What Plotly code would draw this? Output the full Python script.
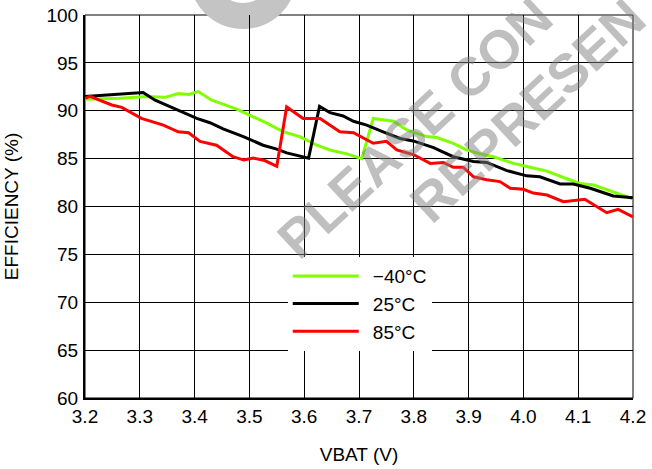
import plotly.graph_objects as go

# ---- data ----
x_m40 = [3.200, 3.264, 3.313, 3.346, 3.370, 3.389, 3.407, 3.431, 3.452, 3.480, 3.498, 3.532,
         3.562, 3.592, 3.623, 3.647, 3.678, 3.705, 3.726, 3.763, 3.787, 3.824, 3.842, 3.872,
         3.897, 3.921, 3.945, 3.982, 4.012, 4.043, 4.079, 4.103, 4.128, 4.164, 4.200]
y_m40 = [91.2, 91.3, 91.5, 91.4, 91.8, 91.7, 92.0, 91.1, 90.7, 90.1, 89.6, 88.7,
         87.8, 87.3, 86.4, 85.9, 85.5, 85.0, 89.2, 88.9, 88.0, 87.3, 87.2, 86.6,
         85.9, 85.5, 85.2, 84.5, 84.1, 83.7, 82.9, 82.4, 82.25, 81.55, 80.8]

x_25 = [3.200, 3.270, 3.306, 3.328, 3.367, 3.404, 3.428, 3.452, 3.489, 3.525, 3.550, 3.568,
        3.608, 3.628, 3.647, 3.671, 3.690, 3.714, 3.744, 3.775, 3.799, 3.836, 3.872, 3.909,
        3.933, 3.970, 4.006, 4.030, 4.067, 4.091, 4.122, 4.164, 4.200]
y_25 = [91.5, 91.8, 91.9, 91.1, 90.15, 89.2, 88.75, 88.1, 87.3, 86.4, 86.0, 85.6,
        85.05, 90.45, 89.8, 89.45, 88.9, 88.5, 87.8, 87.1, 86.85, 86.15, 85.2, 84.7,
        84.6, 83.75, 83.2, 83.1, 82.35, 82.35, 81.9, 81.1, 80.9]

x_85 = [3.200, 3.209, 3.249, 3.267, 3.303, 3.343, 3.370, 3.389, 3.410, 3.440, 3.470, 3.490,
        3.507, 3.528, 3.550, 3.568, 3.598, 3.629, 3.665, 3.690, 3.726, 3.750, 3.769, 3.800,
        3.830, 3.854, 3.872, 3.890, 3.909, 3.933, 3.957, 3.976, 4.000, 4.018, 4.043, 4.073,
        4.112, 4.152, 4.173, 4.200]
y_85 = [91.3, 91.5, 90.6, 90.35, 89.2, 88.5, 87.8, 87.7, 86.8, 86.4, 85.2, 84.85,
        85.05, 84.8, 84.2, 90.4, 89.2, 89.2, 87.8, 87.7, 86.6, 86.8, 85.9, 85.4,
        84.5, 84.6, 84.1, 84.1, 83.1, 82.8, 82.6, 81.9, 81.8, 81.4, 81.2, 80.5,
        80.75, 79.35, 79.7, 78.9]

series_names = ["\u221240\u00b0C", "25\u00b0C", "85\u00b0C"]
series_colors = ["#80ff00", "#000000", "#ff0000"]

x_ticks = [3.2, 3.3, 3.4, 3.5, 3.6, 3.7, 3.8, 3.9, 4.0, 4.1, 4.2]
y_ticks = [60, 65, 70, 75, 80, 85, 90, 95, 100]

FONT = "Arial, 'Liberation Sans', Helvetica, sans-serif"
PAD = "\u00a0\u2009"  # small gap between legend line and label

fig = go.Figure()
for xs, ys, name, col in zip([x_m40, x_25, x_85], [y_m40, y_25, y_85], series_names, series_colors):
    fig.add_trace(go.Scatter(x=xs, y=ys, mode="lines", name=PAD + name,
                             line=dict(color=col, width=3)))

fig.update_layout(
    width=652, height=469,
    margin=dict(l=85, r=19, t=15, b=71, autoexpand=False),
    paper_bgcolor="white", plot_bgcolor="white",
    font=dict(family=FONT, size=19, color="black"),
    showlegend=True,
    legend=dict(x=0.37, y=0.368, xanchor="left", yanchor="top",
                bgcolor="white", borderwidth=0, itemwidth=66,
                font=dict(family=FONT, size=19, color="black")),
    xaxis=dict(range=[3.2, 4.2], tickvals=x_ticks, ticktext=[f"{v:.1f}" for v in x_ticks],
               showgrid=True, gridcolor="black", gridwidth=1,
               showline=True, linecolor="black", linewidth=2,
               ticks="", zeroline=False, ticklabelstandoff=0, automargin=False,
               title=dict(text="VBAT (V)", standoff=22, font=dict(size=19))),
    yaxis=dict(range=[60, 100], tickvals=y_ticks,
               showgrid=True, gridcolor="black", gridwidth=1,
               showline=True, linecolor="black", linewidth=2,
               ticks="", zeroline=False, ticklabelstandoff=1, automargin=False,
               title=dict(text="EFFICIENCY (%)", standoff=23, font=dict(size=19))),
)

# frame (thin top/right border)
fig.add_shape(type="rect", xref="paper", yref="paper", x0=0, x1=1, y0=0, y1=1,
              line=dict(color="black", width=1), layer="below")

# watermark ring (partial, at top)
fig.add_shape(type="circle", xref="paper", yref="paper",
              x0=0.2883 - 0.0985, x1=0.2883 + 0.0985, y0=1.1044 - 0.141, y1=1.1044 + 0.141,
              fillcolor="#c4c4c4", line=dict(width=0), layer="below")
fig.add_shape(type="circle", xref="paper", yref="paper",
              x0=0.2883 - 0.0511, x1=0.2883 + 0.0511, y0=1.1044 - 0.0731, y1=1.1044 + 0.0731,
              fillcolor="white", line=dict(width=0), layer="below")

# watermark text (only the visible parts of the reference)
wm_font = dict(family=FONT, size=54, color="rgba(128,128,128,0.5)", weight="bold")
fig.add_annotation(text="PLEASE CON", xref="paper", yref="paper", x=0.601, y=0.706,
                   xanchor="center", yanchor="middle", textangle=-43, showarrow=False,
                   font=wm_font)
fig.add_annotation(text="REPRESEN", xref="paper", yref="paper", x=0.808, y=0.751,
                   xanchor="center", yanchor="middle", textangle=-43, showarrow=False,
                   font=wm_font)

# remove the default 8px page margin so the figure fills the window
fig.write_html("out.html", config={"displayModeBar": False},
               post_script="document.body.style.margin='0';")
